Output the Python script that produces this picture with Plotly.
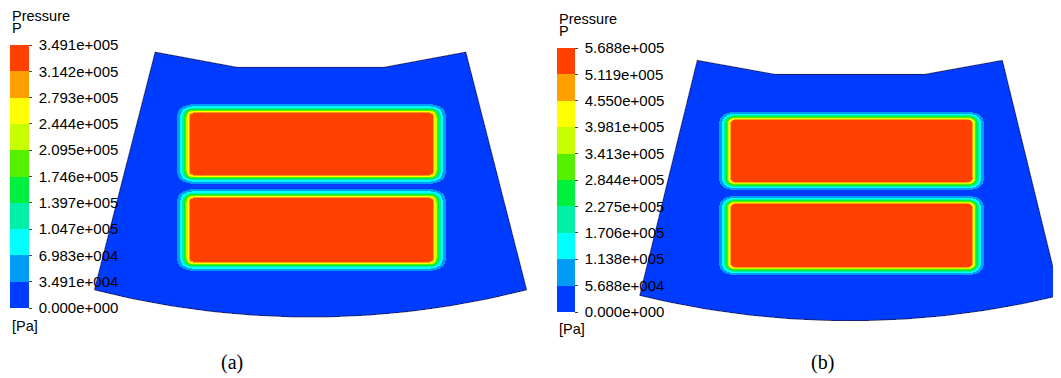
import numpy as np
import plotly.graph_objects as go

# ---------------- data ----------------
p_max_a = 3.491e5          # Pa, panel (a)
p_max_b = 5.688e5          # Pa, panel (b)
n_bands = 10
ticks_a = ["0.000e+000", "3.491e+004", "6.983e+004", "1.047e+005", "1.397e+005",
           "1.746e+005", "2.095e+005", "2.444e+005", "2.793e+005", "3.142e+005", "3.491e+005"]
ticks_b = ["0.000e+000", "5.688e+004", "1.138e+005", "1.706e+005", "2.275e+005",
           "2.844e+005", "3.413e+005", "3.981e+005", "4.550e+005", "5.119e+005", "5.688e+005"]
band_colors = ["#003CFF", "#009CF5", "#00FFFF", "#00F0A8", "#00F040",
               "#55F000", "#C8FF00", "#FFFF00", "#FFA000", "#FF4000"]
panel_labels = ["(a)", "(b)"]
legend_title = ["Pressure", "P"]
unit_label = "[Pa]"

# ---------------- geometry (pixel units of the page) ----------------
W, H = 1061, 378
OFF = 8   # page body margin: the figure starts 8 px in from the page corner
FW, FH = W - OFF, H - OFF
panels = [
    dict(pmax=p_max_a, ticks=ticks_a, cx=310.5, cy=-555.3, r_in=627.0, r_out=872.3,
         half=14.34, kink=6.7,
         red=[(190, 433, 113, 175), (190, 433, 198, 262)], L=5.8, ax=1.45,
         grid=(86, 536, 45, 322),
         cbar=dict(x=10, y=45, len=263, th=19),
         title_xy=(10, 16), unit_xy=(10, 326), label_xy=(232, 362)),
    dict(pmax=p_max_b, ticks=ticks_b, cx=849.8, cy=-562.8, r_in=641.6, r_out=883.5,
         half=13.75, kink=6.7,
         red=[(731, 972, 120, 182), (731, 972, 204, 267)], L=5.3, ax=1.45,
         grid=(634, 1061, 54, 325),
         cbar=dict(x=557, y=48, len=264, th=18),
         title_xy=(557, 19), unit_xy=(557, 329), label_xy=(822, 362)),
]
M_EXP, RC, Q = 1.5, 3.0, 2.5
LABEL_PAD = "\u00a0"   # small gap between tick mark and tick label

discrete_scale = []
for i, c in enumerate(band_colors):
    discrete_scale.append([i / n_bands, c])
    discrete_scale.append([(i + 1) / n_bands, c])


def inner_chain(P):
    angs = np.radians([-P["half"], -P["kink"], P["kink"], P["half"]])
    xs = P["cx"] + P["r_in"] * np.sin(angs)
    ys = P["cy"] + P["r_in"] * np.cos(angs)
    return xs, ys


def build_field(P):
    x0, x1, y0, y1 = P["grid"]
    xs = np.arange(x0, x1) + 0.5
    ys = np.arange(y0, y1) + 0.5
    X, Y = np.meshgrid(xs, ys)
    L, ax = P["L"], P["ax"]
    off = (0.105 ** (1 / M_EXP)) * L
    s_min = np.full(X.shape, np.inf)
    for (rx0, rx1, ry0, ry1) in P["red"]:
        px0, px1 = rx0 + off * ax, rx1 - off * ax
        py0, py1 = ry0 + off, ry1 - off
        dx = np.maximum(np.maximum(px0 + RC * ax - X, X - (px1 - RC * ax)), 0) / ax
        dy = np.maximum(np.maximum(py0 + RC - Y, Y - (py1 - RC)), 0)
        s = (dx ** Q + dy ** Q) ** (1 / Q) - RC
        s_min = np.minimum(s_min, s)
    s = np.clip(s_min, 0, None)
    p = P["pmax"] * np.exp(-(s / L) ** M_EXP)
    p = np.minimum(p, P["pmax"] * 0.9999)
    # sector mask
    r = np.hypot(X - P["cx"], Y - P["cy"])
    ang = np.degrees(np.arctan2(X - P["cx"], Y - P["cy"]))
    cxs, cys = inner_chain(P)
    y_in = np.interp(X, cxs, cys)
    inside = (r <= P["r_out"]) & (np.abs(ang) <= P["half"]) & (Y >= y_in)
    p = np.where(inside, p, np.nan).astype(np.float32)
    return xs, ys, p


def outline(P):
    cxs, cys = inner_chain(P)
    a_out = np.radians(np.linspace(P["half"], -P["half"], 120))
    oxs = P["cx"] + P["r_out"] * np.sin(a_out)
    oys = P["cy"] + P["r_out"] * np.cos(a_out)
    xs = np.concatenate([cxs, oxs, cxs[:1]])
    ys = np.concatenate([cys, oys, cys[:1]])
    return xs, ys


fig = go.Figure()
layout_extra = {}
annotations = []
font_sans = "Liberation Sans, Arial, sans-serif"
for k, P in enumerate(panels):
    xs, ys, z = build_field(P)
    cax = "coloraxis" if k == 0 else "coloraxis%d" % (k + 1)
    fig.add_trace(go.Heatmap(x=xs, y=ys, z=z, coloraxis=cax, zsmooth=False,
                             hoverinfo="skip"))
    ox, oy = outline(P)
    fig.add_trace(go.Scatter(x=ox, y=oy, mode="lines",
                             line=dict(color="#1a1a55", width=0.8),
                             hoverinfo="skip", showlegend=False))
    cb = P["cbar"]
    layout_extra[cax] = dict(
        cmin=0, cmax=P["pmax"], colorscale=discrete_scale,
        colorbar=dict(
            x=(cb["x"] - OFF) / FW, xanchor="left", xref="paper", xpad=0,
            y=1 - (cb["y"] - OFF) / FH, yanchor="top", yref="paper", ypad=0,
            len=cb["len"], lenmode="pixels",
            thickness=cb["th"], thicknessmode="pixels",
            outlinewidth=0,
            tickmode="array",
            tickvals=[P["pmax"] * i / n_bands for i in range(n_bands + 1)],
            ticktext=[LABEL_PAD + t for t in P["ticks"]],
            ticks="outside", ticklen=3, tickwidth=1, tickcolor="#444",
            tickfont=dict(family=font_sans, size=15, color="black"),
        ),
    )
    tx, ty = P["title_xy"]
    annotations.append(dict(x=tx, y=ty, text=legend_title[0], showarrow=False,
                            xanchor="left", yanchor="middle",
                            font=dict(family=font_sans, size=14.5, color="black")))
    annotations.append(dict(x=tx, y=ty + 12, text=legend_title[1], showarrow=False,
                            xanchor="left", yanchor="middle",
                            font=dict(family=font_sans, size=14.5, color="black")))
    ux, uy = P["unit_xy"]
    annotations.append(dict(x=ux, y=uy, text=unit_label, showarrow=False,
                            xanchor="left", yanchor="middle",
                            font=dict(family=font_sans, size=14.5, color="black")))
    lx, ly = P["label_xy"]
    annotations.append(dict(x=lx, y=ly, text=panel_labels[k], showarrow=False,
                            xanchor="center", yanchor="middle",
                            font=dict(family="Liberation Serif, Times New Roman, serif",
                                      size=20, color="black")))

fig.update_layout(
    width=FW, height=FH,
    margin=dict(l=0, r=0, t=0, b=0),
    paper_bgcolor="white", plot_bgcolor="white",
    showlegend=False,
    xaxis=dict(range=[OFF, W], visible=False, fixedrange=True),
    yaxis=dict(range=[H, OFF], visible=False, fixedrange=True),
    annotations=annotations,
    **layout_extra,
)
fig.write_html("out.html")
